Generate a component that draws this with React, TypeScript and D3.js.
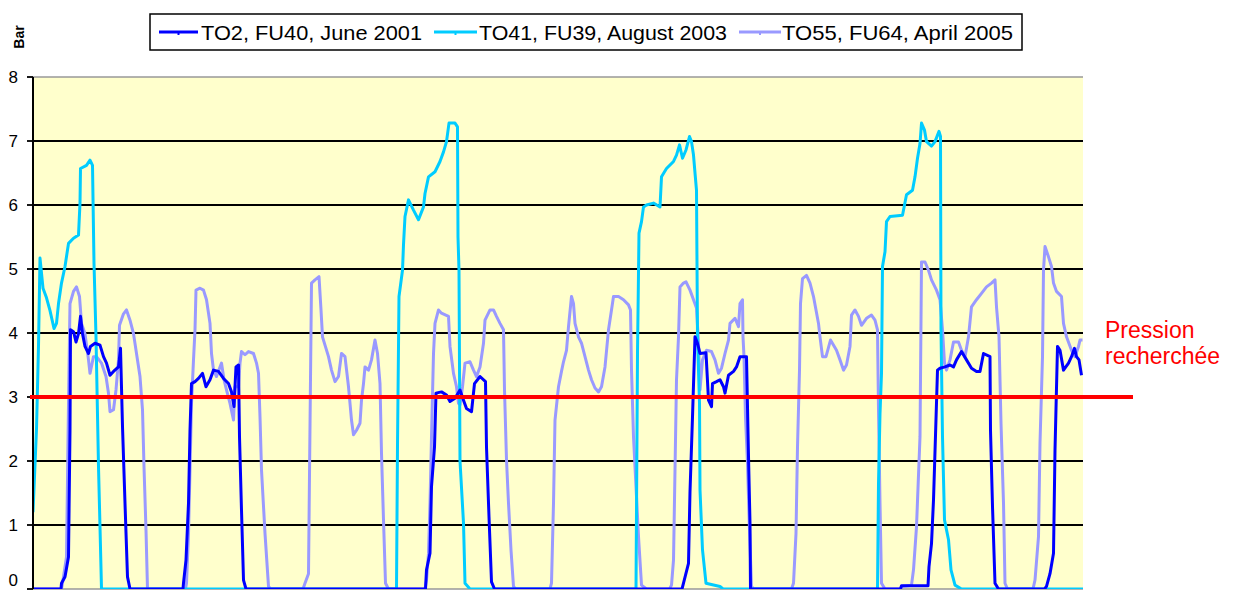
import React from "react";
import * as d3 from "d3";

// time index (0..210) and pressure in bar
const to2: [number, number][] = [
  [0, 0], [5.6, 0], [5.7, 0.09], [6.4, 0.19], [7.1, 0.5], [7.4, 2.48], [7.5, 4.05], [8.1, 4.02], [8.6, 3.86], [9.1, 3.99], [9.5, 4.26], [9.9, 3.99], [10.4, 3.79], [11.1, 3.68], [11.5, 3.79], [12.4, 3.84], [13.4, 3.81], [14.1, 3.63], [14.7, 3.53], [15.4, 3.34], [16.1, 3.4], [17.1, 3.47], [17.5, 3.76], [17.9, 2.54], [18.4, 1.34], [18.9, 0.19], [19.4, 0],
  [30.0, 0], [30.1, 0.09], [30.6, 0.45], [31.1, 1.34], [31.4, 2.48], [31.7, 3.21], [32.4, 3.24], [33.1, 3.29], [33.9, 3.37], [34.6, 3.16], [35.4, 3.27], [36.1, 3.42], [37.1, 3.4], [38.1, 3.29], [39.1, 3.21], [39.7, 3.08], [40.2, 2.85], [40.6, 3.47], [41.1, 3.5], [41.3, 2.38], [41.7, 1.23], [42.1, 0.14], [42.6, 0],
  [78.5, 0], [78.7, 0.3], [79.4, 0.56], [79.7, 1.6], [80.3, 2.22], [80.6, 3.06], [81.7, 3.08], [82.7, 3.03], [83.4, 2.93], [84.4, 2.98], [85.4, 3.11], [86.1, 2.95], [86.7, 2.82], [87.7, 2.77], [88.3, 3.21], [89.4, 3.32], [90.5, 3.24], [90.7, 2.22], [91.2, 1.13], [91.7, 0.11], [92.3, 0],
  [129.8, 0], [130.1, 0.09], [131.1, 0.4], [131.4, 1.52], [131.9, 2.69], [132.4, 3.94], [132.9, 3.84], [133.4, 3.68], [134.6, 3.69], [135.1, 2.95], [135.7, 2.85], [135.9, 3.21], [136.7, 3.24], [137.4, 3.27], [138.1, 3.16], [138.4, 3.06], [139.1, 3.34], [140.1, 3.4], [140.7, 3.47], [141.4, 3.63], [142.7, 3.63], [143.1, 2.07], [143.4, 1.03], [143.5, 0],
  [173.5, 0], [173.7, 0.05], [179.0, 0.05], [179.2, 0.35], [179.7, 0.71], [180.1, 1.39], [180.5, 2.4], [180.9, 3.42], [181.4, 3.45], [182.4, 3.47], [183.4, 3.5], [184.1, 3.47], [184.7, 3.58], [185.7, 3.71], [186.7, 3.58], [187.7, 3.45], [188.7, 3.4], [189.4, 3.4], [190.1, 3.68], [191.4, 3.63], [191.5, 2.48], [191.9, 1.29], [192.4, 0.09], [193.1, 0],
  [202.3, 0], [202.7, 0.04], [203.4, 0.24], [204.1, 0.56], [204.4, 2.17], [204.9, 3.79], [205.4, 3.73], [206.1, 3.42], [207.1, 3.53], [207.7, 3.63], [208.3, 3.76], [208.7, 3.63], [209.2, 3.58], [209.7, 3.34],
];

const to41: [number, number][] = [
  [0, 1.2], [0.7, 2.5], [1.1, 3.8], [1.4, 5.17], [2.0, 4.7], [2.7, 4.55], [3.4, 4.35], [4.2, 4.07], [4.7, 4.15], [5.1, 4.46], [5.7, 4.78], [6.4, 5.04], [7.1, 5.4], [8.1, 5.48], [9.1, 5.53], [9.4, 6.03], [9.5, 6.57], [10.7, 6.62], [11.4, 6.7], [11.9, 6.62], [12.2, 5.09], [12.6, 3.94], [13.1, 1.91], [13.4, 0.97], [13.7, 0],
  [72.7, 0], [72.9, 2.25], [73.2, 4.57], [73.9, 4.98], [74.1, 5.38], [74.4, 5.82], [75.1, 6.08], [76.1, 5.92], [77.1, 5.77], [78.1, 5.97], [78.4, 6.18], [79.1, 6.44], [80.4, 6.52], [81.4, 6.68], [82.1, 6.83], [82.7, 6.99], [83.2, 7.28], [84.4, 7.28], [84.9, 7.22], [85.0, 5.5], [85.2, 4.98], [85.4, 2.0], [86.1, 1.03], [86.4, 0.09], [87.4, 0],
  [120.6, 0], [120.9, 3.68], [121.2, 5.56], [121.7, 5.74], [122.1, 5.97], [122.7, 6.0], [124.1, 6.03], [125.4, 5.97], [125.7, 6.44], [126.7, 6.57], [128.1, 6.68], [128.7, 6.78], [129.3, 6.94], [129.9, 6.73], [130.6, 6.86], [131.3, 7.07], [131.7, 6.99], [132.1, 6.78], [132.4, 6.5], [132.7, 6.23], [132.9, 3.94], [133.3, 2.9], [133.4, 1.55], [133.9, 0.61], [134.6, 0.09], [137.4, 0.04], [138, 0],
  [168.9, 0], [169.1, 1.65], [169.4, 2.74], [169.7, 3.37], [169.9, 5.04], [170.4, 5.27], [170.7, 5.74], [171.4, 5.82], [173.9, 5.84], [174.7, 6.16], [175.9, 6.23], [176.4, 6.44], [176.9, 6.73], [177.4, 6.96], [177.7, 7.28], [178.3, 7.17], [178.7, 6.99], [179.7, 6.92], [180.4, 6.99], [181.2, 7.15], [181.5, 7.07], [181.6, 4.05], [181.9, 2.38], [182.3, 1.08], [183.1, 0.77], [183.6, 0.3], [184.4, 0.06], [185.7, 0], [210, 0],
];

const to55: [number, number][] = [
  [0, 0], [5.7, 0], [6.1, 0.19], [6.7, 0.5], [7.1, 2.9], [7.4, 4.46], [8.1, 4.65], [8.7, 4.72], [9.3, 4.57], [9.7, 4.15], [10.4, 3.99], [11.1, 3.58], [11.4, 3.37], [12.1, 3.63], [12.7, 3.63], [13.7, 3.53], [14.6, 3.32], [15.1, 3.06], [15.4, 2.77], [16.1, 2.8], [16.6, 3.11], [17.1, 3.58], [17.3, 4.12], [18.1, 4.3], [18.7, 4.36], [19.4, 4.2], [20.1, 3.99], [20.7, 3.68], [21.4, 3.32], [21.9, 2.8], [22.2, 1.91], [22.6, 0.92], [22.9, 0],
  [30.5, 0], [30.7, 0.09], [31.1, 0.87], [31.4, 1.86], [31.7, 2.9], [32.1, 3.58], [32.4, 4.05], [32.6, 4.67], [33.4, 4.7], [34.1, 4.67], [34.7, 4.52], [35.4, 4.15], [35.7, 3.68], [36.1, 3.42], [36.7, 3.32], [37.7, 3.53], [38.2, 3.27], [38.7, 3.11], [39.4, 2.9], [40.1, 2.64], [40.4, 3.16], [41.1, 3.16], [41.4, 3.53], [41.7, 3.71], [42.4, 3.66], [43.1, 3.71], [44.1, 3.68], [44.7, 3.53], [45.1, 3.37], [45.4, 2.69], [45.7, 1.86], [46.4, 0.87], [47.1, 0.04], [47.5, 0],
  [54, 0], [54.4, 0.09], [55.1, 0.24], [55.4, 2.54], [55.7, 4.78], [56.4, 4.83], [57.2, 4.88], [57.6, 4.36], [57.9, 3.94], [58.4, 3.81], [59.1, 3.63], [59.7, 3.42], [60.4, 3.24], [61.1, 3.32], [61.7, 3.68], [62.4, 3.63], [63.1, 3.16], [63.4, 2.9], [63.7, 2.64], [64.1, 2.41], [64.7, 2.48], [65.4, 2.59], [65.7, 2.95], [66.1, 3.21], [66.4, 3.47], [67.1, 3.42], [67.7, 3.58], [68.4, 3.89], [68.9, 3.68], [69.4, 3.21], [69.7, 2.12], [70.1, 1.08], [70.5, 0.09], [71.1, 0],
  [78.4, 0], [78.7, 0.14], [79.1, 0.56], [79.4, 1.34], [79.7, 2.38], [80.1, 3.68], [80.4, 4.15], [81.1, 4.36], [81.7, 4.31], [83.1, 4.26], [83.4, 3.79], [84.1, 3.37], [84.7, 3.16], [85.1, 2.9], [85.4, 2.88], [85.9, 3.16], [86.4, 3.53], [87.4, 3.55], [88.1, 3.42], [88.7, 3.32], [89.4, 3.47], [90.1, 3.84], [90.4, 4.2], [91.4, 4.36], [92.1, 4.36], [92.7, 4.26], [93.4, 4.15], [94.1, 4.05], [94.3, 3.11], [94.7, 2.02], [95.1, 1.34], [95.6, 0.61], [96.1, 0.04], [96.5, 0],
  [103.4, 0], [103.7, 0.09], [104.1, 1.34], [104.4, 2.64], [105.1, 3.16], [105.7, 3.4], [106.1, 3.55], [106.7, 3.73], [107.1, 4.1], [107.7, 4.57], [108.1, 4.46], [108.4, 4.15], [109.1, 3.94], [109.7, 3.84], [110.4, 3.63], [111.1, 3.42], [111.7, 3.27], [112.4, 3.14], [113.1, 3.08], [113.7, 3.16], [114.4, 3.47], [115.1, 4.05], [115.7, 4.36], [116.1, 4.57], [117.1, 4.57], [118.1, 4.52], [119.1, 4.44], [119.5, 4.36], [119.7, 3.42], [120.1, 2.38], [120.6, 1.6], [121.1, 0.82], [121.7, 0.06], [122.7, 0],
  [127.3, 0], [127.7, 0.06], [128.1, 0.45], [128.4, 1.86], [128.7, 3.27], [129.1, 3.94], [129.4, 4.72], [130.1, 4.78], [130.6, 4.8], [131.4, 4.67], [132.1, 4.52], [132.7, 4.39], [133.1, 3.84], [133.4, 3.11], [133.9, 3.58], [134.7, 3.73], [135.7, 3.71], [136.4, 3.58], [137.1, 3.37], [137.7, 3.45], [138.4, 3.68], [139.1, 3.89], [139.4, 4.15], [140.4, 4.23], [141.1, 4.1], [141.4, 4.46], [141.9, 4.52], [142.0, 3.94], [142.2, 3.63], [142.5, 2.69], [142.9, 1.96], [143.3, 0.92], [143.7, 0.04], [144.1, 0],
  [151.7, 0], [152.1, 0.09], [152.6, 0.87], [152.9, 2.22], [153.3, 3.42], [153.5, 4.46], [153.9, 4.85], [154.7, 4.9], [155.4, 4.78], [156.1, 4.57], [156.6, 4.36], [157.1, 4.15], [157.4, 3.94], [157.9, 3.63], [158.6, 3.63], [159.5, 3.89], [160.7, 3.73], [161.4, 3.58], [162.1, 3.42], [162.7, 3.5], [163.4, 3.79], [163.7, 4.28], [164.4, 4.36], [165.1, 4.26], [165.7, 4.12], [166.7, 4.23], [167.7, 4.28], [168.4, 4.2], [168.9, 4.05], [169.1, 2.8], [169.4, 1.34], [169.7, 0.09], [170.4, 0],
  [173.5, 0], [173.7, 0.04], [175.7, 0.06], [176.1, 0.3], [176.7, 0.97], [177.4, 2.38], [177.7, 5.11], [178.4, 5.11], [179.1, 4.98], [179.7, 4.83], [180.7, 4.67], [181.4, 4.52], [181.9, 4.05], [182.3, 3.53], [182.7, 3.42], [183.4, 3.58], [184.1, 3.86], [185.1, 3.86], [185.7, 3.73], [186.4, 3.63], [187.1, 3.94], [187.7, 4.41], [188.7, 4.52], [189.7, 4.62], [190.7, 4.72], [191.7, 4.78], [192.4, 4.83], [192.7, 4.41], [193.2, 3.94], [193.6, 2.59], [194.1, 1.34], [194.4, 0.09], [194.9, 0],
  [200, 0], [200.4, 0.14], [201.1, 0.82], [201.4, 2.28], [201.9, 3.63], [202.1, 4.98], [202.4, 5.35], [203.1, 5.19], [203.7, 5.04], [204.1, 4.78], [204.7, 4.65], [205.7, 4.57], [206.1, 4.15], [206.7, 3.94], [207.7, 3.73], [208.4, 3.63], [209.1, 3.79], [209.4, 3.89], [209.9, 3.89],
];

const yTicks = [0, 1, 2, 3, 4, 5, 6, 7, 8];
const seriesNames = ["TO2, FU40, June 2001", "TO41, FU39, August 2003", "TO55, FU64, April 2005"];
const seriesColors = ["#0000ff", "#00ccff", "#9999ff"];
const targetPressure = 3;

const width = 1237;
const height = 592;
const margin = { left: 33, right: 1083, top: 77, bottom: 589 };

// legend layout: line start, line end, text start, text width
const legendSlots = [
  [159, 198, 201, 221],
  [434, 477, 479, 248],
  [739, 781, 782, 231],
];

export default function App() {
  const x = d3.scaleLinear().domain([0, 210]).range([margin.left, margin.right]);
  const y = d3.scaleLinear().domain([0, 8]).range([margin.bottom, margin.top]);

  const line = d3
    .line<[number, number]>()
    .x((d) => x(d[0]))
    .y((d) => y(d[1]));

  const series = [to2, to41, to55];
  // draw lavender first, dark blue last
  const order = [2, 1, 0];

  return (
    <svg
      width={width}
      height={height}
      style={{ position: "absolute", left: 0, top: 0, background: "#fff" }}
      fontFamily="Arial, 'Liberation Sans', sans-serif"
    >
      <defs>
        <clipPath id="plotClip">
          <rect
            x={margin.left}
            y={margin.top}
            width={margin.right - margin.left}
            height={margin.bottom - margin.top}
          />
        </clipPath>
      </defs>

      {/* legend */}
      <rect x={150} y={14} width={872} height={36} fill="#fff" stroke="#000" strokeWidth={1.5} />
      {seriesNames.map((name, i) => {
        const [l0, l1, tx, tw] = legendSlots[i];
        const mid = (l0 + l1) / 2;
        return (
          <g key={name}>
            <line x1={l0} x2={l1} y1={32} y2={32} stroke={seriesColors[i]} strokeWidth={3} />
            <line x1={mid} x2={mid} y1={32} y2={35} stroke={seriesColors[i]} strokeWidth={2} />
            <text
              x={tx}
              y={39.5}
              fontSize={21}
              fill="#000"
              textLength={tw}
              lengthAdjust="spacingAndGlyphs"
            >
              {name}
            </text>
          </g>
        );
      })}

      {/* y axis title */}
      <text
        transform="translate(24,37) rotate(-90)"
        textAnchor="middle"
        fontSize={14}
        fontWeight="bold"
        fill="#000"
      >
        Bar
      </text>

      {/* plot area */}
      <rect
        x={margin.left}
        y={margin.top}
        width={margin.right - margin.left}
        height={margin.bottom - margin.top}
        fill="#ffffcc"
      />
      <line x1={margin.left} x2={margin.right} y1={y(8)} y2={y(8)} stroke="#999" strokeWidth={1.5} />
      <line x1={margin.left} x2={margin.right} y1={y(0)} y2={y(0)} stroke="#999" strokeWidth={1.5} />
      {yTicks
        .filter((t) => t > 0 && t < 8)
        .map((t) => (
          <line key={t} x1={margin.left} x2={margin.right} y1={y(t)} y2={y(t)} stroke="#000" strokeWidth={1.8} />
        ))}

      <g clipPath="url(#plotClip)" fill="none" strokeLinejoin="round">
        {order.map((i) => (
          <path key={i} d={line(series[i]) || ""} stroke={seriesColors[i]} strokeWidth={3} />
        ))}
      </g>

      {/* y axis */}
      <line x1={margin.left} x2={margin.left} y1={margin.top} y2={margin.bottom} stroke="#000" strokeWidth={2} />
      {yTicks.map((t) => (
        <g key={t}>
          <line x1={27} x2={margin.left} y1={y(t)} y2={y(t)} stroke="#000" strokeWidth={1.8} />
          <text x={18} y={Math.min(y(t) + 6, 586)} textAnchor="end" fontSize={17} fill="#000">
            {t}
          </text>
        </g>
      ))}

      {/* target pressure */}
      <line x1={30} x2={1133} y1={y(targetPressure)} y2={y(targetPressure)} stroke="#ff0000" strokeWidth={4} />
      <text x={1105} y={338} fontSize={23} fill="#ff0000">
        Pression
      </text>
      <text x={1105} y={364} fontSize={23} fill="#ff0000">
        recherchée
      </text>
    </svg>
  );
}
